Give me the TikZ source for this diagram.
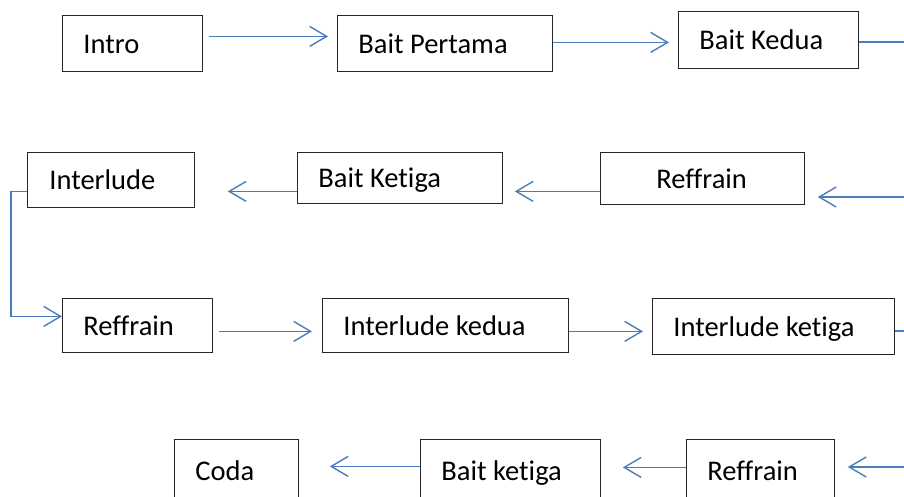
\documentclass[tikz,border=0pt]{standalone}
\usepackage{fontspec}
\setmainfont{Carlito}[Ligatures=NoCommon]
\usetikzlibrary {arrows.meta}
\definecolor{lineblue}{HTML}{4A7EBB}

\begin{document}
\begin{tikzpicture}[x=1pt, y=-1pt]
      \useasboundingbox (0,0) rectangle (904,497);
      \clip (0,0) rectangle (904,497);
      \begin{scope}[every node/.style={rectangle,draw=black!85,line width=0.8pt,
          anchor=north west,align=flush left,inner xsep=21pt,text height=20pt,text depth=0pt,
          font=\fontsize{28.5pt}{32pt}\selectfont}]
        \node (intro) [text width=98pt, minimum height=56pt] at (62,15) {Intro};
        \node (pertama) [text width=173pt, minimum height=56pt] at (337,15) {Bait Pertama};
        \node (kedua) [text width=138pt, minimum height=57pt] at (678,11) {Bait Kedua};
        \node (interlude) [text width=123pt, inner xsep=22pt, minimum height=55pt] at (27,152) {Interlude};
        \node (ketigab) [text width=163pt, minimum height=51pt] at (297,152) {Bait Ketiga};
        \node (refb) [text width=92pt, inner xsep=56pt, minimum height=52pt] at (600,152) {Reffrain};
        \node (refc) [text width=108pt, minimum height=54pt] at (62,298) {Reffrain};
        \node (interkedua) [text width=204pt, minimum height=54pt] at (322,298) {Interlude kedua};
        \node (interketiga) [text width=200pt, minimum height=56pt] at (652,298) {Interlude ketiga};
        \node (coda) [text width=82pt, minimum height=62pt] at (174,439) {Coda};
        \node (baitd) [text width=138pt, minimum height=62pt] at (420,439) {Bait ketiga};
        \node (refd) [text width=106pt, minimum height=62pt] at (686,439) {Reffrain};
      \end{scope}
      % ends that leave the picture on the right
      \coordinate (out1) at (904,42);
      \coordinate (out2) at (904,197);
      \coordinate (out3) at (904,331);
      \coordinate (out4) at (904,467);
      \begin{scope}
        [every edge/.style={draw=lineblue, line width=1.4pt,
          -{Straight Barb[length=17pt,width=20pt,line width=1.4pt]}}]
        \path ([yshift=7pt]intro.east) edge[shorten <=6pt, shorten >=9pt] ([yshift=7pt]intro.east -| pertama.west);
        \path ([yshift=1pt]pertama.east) edge[shorten >=9pt] ([yshift=1pt]pertama.east -| kedua.west);
        \path (kedua.east |- out1) edge[-] (out1);
        \path (out2) edge[shorten >=13pt] (out2 -| refb.east);
        \path ([yshift=-13pt]refb.west) edge[shorten >=12pt] ([yshift=-13pt]refb.west -| ketigab.east);
        \path ([yshift=-13.5pt]ketigab.west) edge[shorten >=33pt] ([yshift=-13.5pt]ketigab.west -| interlude.east);
        \draw[lineblue, line width=1.4pt, -{Straight Barb[length=17pt,width=20pt,line width=1.4pt]}]
          ([yshift=-11.5pt]interlude.west) -- ++(-16,0) |- ([yshift=9pt]refc.west);
        \path ([yshift=-6pt]refc.east) edge[shorten <=6pt, shorten >=10pt] ([yshift=-6pt]refc.east -| interkedua.west);
        \path ([yshift=-6pt]interkedua.east) edge[shorten >=9pt] ([yshift=-6pt]interkedua.east -| interketiga.west);
        \path (interketiga.east |- out3) edge[-] (out3);
        \path (out4) edge[shorten >=13pt] (out4 -| refd.east);
        \path ([yshift=3pt]refd.west) edge[shorten >=22pt] ([yshift=3pt]refd.west -| baitd.east);
        \path ([yshift=4pt]baitd.west) edge[shorten >=31pt] ([yshift=4pt]baitd.west -| coda.east);
      \end{scope}
    \end{tikzpicture}
\end{document}
